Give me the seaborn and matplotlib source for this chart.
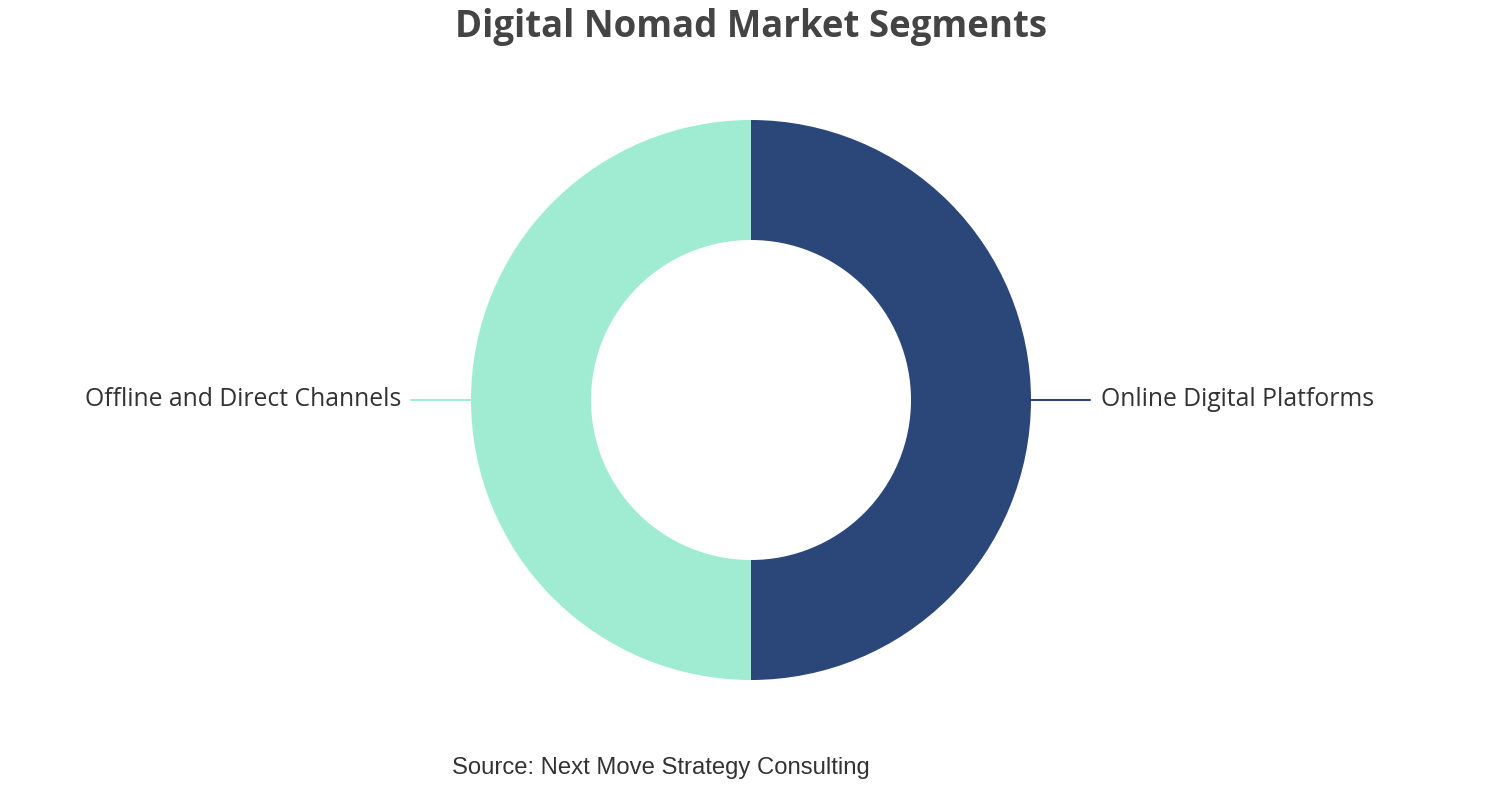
import matplotlib
matplotlib.use("Agg")
import matplotlib.pyplot as plt
import seaborn as sns

# chart data
segments = ["Online Digital Platforms", "Offline and Direct Channels"]
shares = [50, 50]
colors = ["#2b477a", "#a0ecd2"]

sns.set_theme(style="white")
plt.rcParams['font.family'] = ['Open Sans', 'DejaVu Sans']

W, H = 1502, 800
fig = plt.figure(figsize=(W / 100, H / 100), dpi=100)
ax = fig.add_axes([0, 0, 1, 1])

cx, cy = 751, H - 400
r_out, r_in = 280, 160

ax.pie(shares, colors=colors, startangle=90, counterclock=False,
       center=(cx, cy), radius=r_out,
       wedgeprops=dict(width=r_out - r_in, linewidth=0))

ax.set_xlim(0, W)
ax.set_ylim(0, H)
ax.set_aspect("equal")
ax.axis("off")

# leader lines and labels
ax.plot([cx + r_out, cx + r_out + 59], [cy, cy], color=colors[0], lw=1.5)
ax.text(cx + r_out + 70, cy, segments[0], ha="left", va="center",
        fontsize=17.8, color="#333333")
ax.plot([cx - r_out - 60, cx - r_out], [cy, cy], color=colors[1], lw=1.5)
ax.text(cx - r_out - 70, cy, segments[1], ha="right", va="center",
        fontsize=17.8, color="#333333")

fig.text(0.5, 1 - 27 / H, "Digital Nomad Market Segments", ha="center", va="center",
         fontsize=26.4, fontweight="bold", color="#444444")
fig.text(660.5 / W, 1 - 768 / H, "Source: Next Move Strategy Consulting", ha="center",
         va="center", fontsize=17.2, color="#333333", family="Liberation Sans")

fig.savefig("out.png", dpi=100)
